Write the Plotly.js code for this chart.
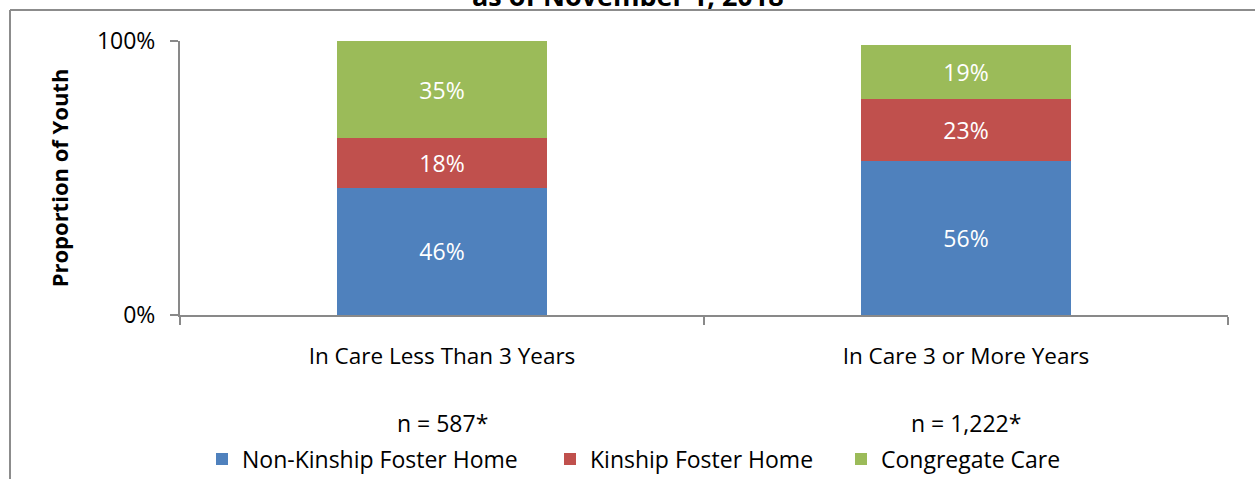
<!DOCTYPE html>
<html>
<head>
<meta charset="utf-8">
<script src="https://cdn.plot.ly/plotly-3.0.1.min.js"></script>
<style>
  html, body { margin: 0; padding: 0; background: #ffffff; }
  #chart { width: 1255px; height: 479px; }
</style>
</head>
<body>
<div id="chart"></div>
<script>
// ---- Data ----
const categories = ['In Care Less Than 3 Years', 'In Care 3 or More Years'];
const sampleSizes = ['n = 587*', 'n = 1,222*'];
const seriesNames = ['Non-Kinship Foster Home', 'Kinship Foster Home', 'Congregate Care'];
const nonKinship = [0.465, 0.561];
const kinship = [0.181, 0.226];
const congregate = [0.354, 0.197];
const nonKinshipLabels = ['46%', '56%'];
const kinshipLabels = ['18%', '23%'];
const congregateLabels = ['35%', '19%'];
const yTickVals = [0, 1];
const yTickText = ['0%', '100%'];
const titleText = 'as of November 1, 2018';

const FONT = "'Open Sans', Carlito, sans-serif";
const colors = ['#4F81BD', '#C0504D', '#9BBB59'];
const values = [nonKinship, kinship, congregate];
const labels = [nonKinshipLabels, kinshipLabels, congregateLabels];
const legendWidths = [303, 246, 190];

const traces = seriesNames.map((name, i) => ({
  type: 'bar',
  name: name,
  x: categories,
  y: values[i],
  text: labels[i],
  textposition: 'inside',
  insidetextanchor: 'middle',
  textangle: 0,
  constraintext: 'none',
  textfont: { family: FONT, size: 23, color: '#ffffff' },
  marker: { color: colors[i], line: { width: 0 } },
  width: 0.4,
  legendwidth: legendWidths[i],
  hoverinfo: 'skip'
}));

// pixel helpers for shapes/annotations outside the plot area
const L = 180, R = 27, T = 41, B = 164, W = 1255, H = 479;
const pw = W - L - R, ph = H - T - B;
const px = v => (v - L) / pw;
const py = v => (H - B - v) / ph;

const annotations = categories.map((c, i) => ({
  x: c, xref: 'x',
  y: py(423), yref: 'paper',
  text: sampleSizes[i],
  showarrow: false,
  xanchor: 'center', yanchor: 'middle',
  font: { family: FONT, size: 23, color: '#000000' }
}));
annotations.push({
  x: px(628), xref: 'paper',
  y: py(16), yref: 'paper',
  text: '<b>' + titleText + '</b>',
  showarrow: false,
  xanchor: 'center', yanchor: 'bottom',
  font: { family: FONT, size: 27, color: '#000000' }
});

const layout = {
  width: W, height: H,
  margin: { l: L, r: R, t: T, b: B, pad: 0 },
  paper_bgcolor: '#ffffff',
  plot_bgcolor: '#ffffff',
  barmode: 'stack',
  showlegend: true,
  legend: {
    orientation: 'h',
    xref: 'container', yref: 'container',
    x: 202 / W, xanchor: 'left',
    y: 1 - 459 / H, yanchor: 'middle',
    font: { family: FONT, size: 23, color: '#000000' },
    traceorder: 'normal',
    itemclick: false, itemdoubleclick: false
  },
  xaxis: {
    type: 'category',
    range: [-0.5, 1.5],
    showline: true, linecolor: '#898989', linewidth: 2,
    ticks: 'outside', tickson: 'boundaries', ticklen: 8, tickwidth: 2, tickcolor: '#898989',
    ticklabelstandoff: 20,
    showgrid: false, zeroline: false,
    tickfont: { family: FONT, size: 22.5, color: '#000000' },
    automargin: false,
    fixedrange: true
  },
  yaxis: {
    range: [0, 1],
    tickvals: yTickVals, ticktext: yTickText,
    showline: true, linecolor: '#898989', linewidth: 2,
    ticks: 'outside', ticklen: 8, tickwidth: 2, tickcolor: '#898989',
    ticklabelstandoff: 10,
    showgrid: true, gridcolor: '#898989', gridwidth: 2,
    zeroline: false,
    tickfont: { family: FONT, size: 23, color: '#000000' },
    title: { text: '<b>Proportion of Youth</b>', font: { family: FONT, size: 22, color: '#000000' }, standoff: 22 },
    automargin: false,
    fixedrange: true
  },
  annotations: annotations,
  shapes: [
    { type: 'line', xref: 'paper', yref: 'paper', x0: px(10), x1: px(1260), y0: py(10), y1: py(10),
      line: { color: '#8c8c8c', width: 2 } },
    { type: 'line', xref: 'paper', yref: 'paper', x0: px(10), x1: px(10), y0: py(10), y1: py(485),
      line: { color: '#8c8c8c', width: 2 } }
  ]
};

Plotly.newPlot('chart', traces, layout, { displayModeBar: false, staticPlot: true });
</script>
</body>
</html>
